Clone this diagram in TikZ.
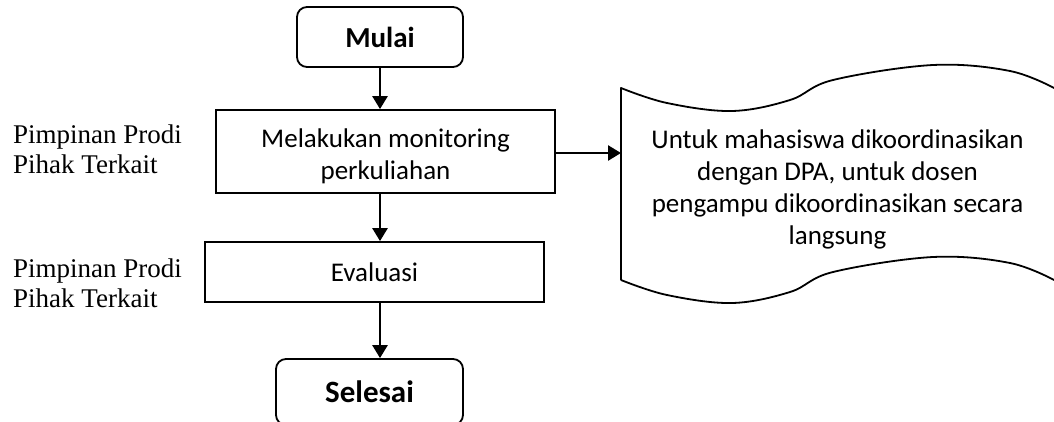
\documentclass[tikz,border=0pt]{standalone}
\usepackage{fontspec}
\setmainfont{Liberation Serif}
\newfontfamily\carlito{Carlito}
\usetikzlibrary{arrows.meta}
% raises the first line of a text block so it sits lower in its box
\newcommand\firstlinelift[1]{\rule{0pt}{#1}}
\tikzset{
  procbox/.style={draw, line width=1.8pt, rectangle, inner sep=0pt, align=center,
    font=\carlito\fontsize{27}{32}\selectfont},
  termbox/.style={draw, line width=1.8pt, rectangle, rounded corners=10pt, inner sep=0pt,
    font=\carlito\bfseries\fontsize{29}{32}\selectfont},
  flow/.style={line width=2.6pt, -{Triangle[length=13pt,width=15pt]}},
  rolelabel/.style={anchor=west, align=left, inner sep=0pt,
    font=\fontsize{27}{30}\selectfont},
}
\begin{document}
\begin{tikzpicture}[x=1pt,y=-1pt]
\clip (0,0) rectangle (1054,421);
\useasboundingbox (0,0) rectangle (1054,421);

% process chain
\node[termbox, minimum width=166pt, minimum height=60pt] (mulai) at (380,37) {Mulai};
\node[procbox, minimum width=339pt, minimum height=83pt] (monitor) at (385.5,151.5)
  {\firstlinelift{28pt}Melakukan monitoring\\perkuliahan};
\node[procbox, minimum width=339pt, minimum height=60pt] (eval) at (374.5,272) {Evaluasi};
\node[termbox, minimum width=187pt, minimum height=66pt,
  font=\carlito\bfseries\fontsize{31}{32}\selectfont] (selesai) at (369.5,392) {Selesai};

% document shape with wavy top and bottom edges
\draw[line width=1.8pt, line join=round]
  plot[smooth, tension=0.6] coordinates {(1056,89) (1010,71) (933,65) (833,80) (790,100) (732,111) (667,103) (621,88)}
  -- (621,280)
  plot[smooth, tension=0.6] coordinates {(621,280) (667,295) (732,303) (790,292) (833,272) (933,257) (1010,263) (1056,281)};
\node[inner sep=0pt, align=center,
  font=\carlito\fontsize{27}{32}\selectfont] (doctext) at (837.5,189)
  {Untuk mahasiswa dikoordinasikan\\dengan DPA, untuk dosen\\pengampu dikoordinasikan secara\\langsung};
\coordinate (docin) at (621,153);

% connectors
\draw[flow] (mulai.south) -- (monitor.north -| mulai.south);
\draw[flow] (monitor.south -| mulai.south) -- (eval.north -| mulai.south);
\draw[flow] (eval.south -| mulai.south) -- (selesai.north -| mulai.south);
\draw[flow] (monitor.east |- docin) -- (docin);

% responsible parties
\node[rolelabel] (role1) at (13,149) {Pimpinan Prodi\\Pihak Terkait};
\node[rolelabel] (role2) at (13,283.5) {Pimpinan Prodi\\Pihak Terkait};
\end{tikzpicture}
\end{document}
